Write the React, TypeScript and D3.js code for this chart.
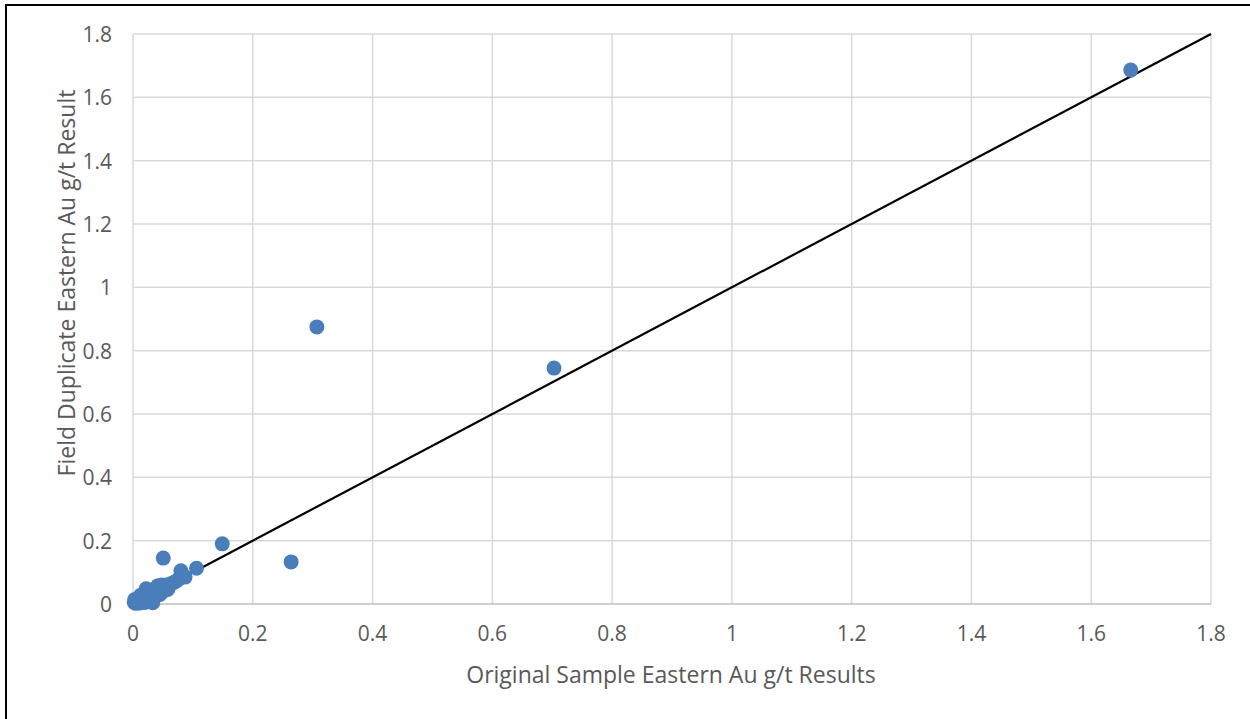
import React from "react";
import * as d3 from "d3";

const xValues = [1.666, 0.703, 0.307, 0.264, 0.149, 0.106, 0.0505, 0.080, 0.087,
  0.002, 0.003, 0.005, 0.008, 0.010, 0.012, 0.015, 0.018, 0.020, 0.022, 0.025, 0.028,
  0.030, 0.033, 0.035, 0.038, 0.040, 0.042, 0.045, 0.048, 0.050, 0.052, 0.055, 0.058,
  0.060, 0.063, 0.068, 0.072, 0.076, 0.020, 0.013, 0.045];
const yValues = [1.686, 0.745, 0.875, 0.133, 0.190, 0.113, 0.145, 0.105, 0.085,
  0.005, 0.014, 0.002, 0.016, 0.008, 0.003, 0.022, 0.010, 0.005, 0.048, 0.040, 0.030,
  0.022, 0.004, 0.042, 0.050, 0.035, 0.058, 0.046, 0.060, 0.040, 0.055, 0.060, 0.046,
  0.055, 0.064, 0.068, 0.072, 0.078, 0.030, 0.028, 0.030];
const xTicks = [0, 0.2, 0.4, 0.6, 0.8, 1, 1.2, 1.4, 1.6, 1.8];
const yTicks = [0, 0.2, 0.4, 0.6, 0.8, 1, 1.2, 1.4, 1.6, 1.8];
const refLine = [0, 1.8];

export default function App() {
  const W = 1250, H = 719;
  const x = d3.scaleLinear().domain([0, 1.8]).range([133, 1211]);
  const y = d3.scaleLinear().domain([0, 1.8]).range([604, 34]);
  const font = "Open Sans, sans-serif";
  const txt = "#595959";
  const line = d3.line<number>().x((d) => x(d)).y((d) => y(d));
  return (
    <svg width={W} height={H} style={{ position: "absolute", left: 0, top: 0, background: "#fff" }}>
      <rect x={0} y={0} width={W} height={H} fill="#fff" />
      <line x1={6} y1={5} x2={W} y2={5} stroke="#000" strokeWidth={2} />
      <line x1={6} y1={4} x2={6} y2={H} stroke="#000" strokeWidth={2} />
      {xTicks.map((t) => (
        <line key={"gx" + t} x1={x(t)} x2={x(t)} y1={y(1.8)} y2={y(0)} stroke="#d9d9d9" strokeWidth={1.5} />
      ))}
      {yTicks.map((t) => (
        <line key={"gy" + t} x1={x(0)} x2={x(1.8)} y1={y(t)} y2={y(t)} stroke={t === 0 ? "#bfbfbf" : "#d9d9d9"} strokeWidth={1.5} />
      ))}
      {xTicks.map((t) => (
        <text key={"tx" + t} x={x(t)} y={633} textAnchor="middle" dominantBaseline="central" fontFamily={font} fontSize={21} fill={txt}>
          {d3.format("~g")(t)}
        </text>
      ))}
      {yTicks.map((t) => (
        <text key={"ty" + t} x={112} y={y(t)} textAnchor="end" dominantBaseline="central" fontFamily={font} fontSize={21} fill={txt}>
          {d3.format("~g")(t)}
        </text>
      ))}
      <path d={line(refLine) || ""} stroke="#000" strokeWidth={2.2} fill="none" />
      {xValues.map((v, i) => (
        <circle key={"p" + i} cx={x(v)} cy={y(yValues[i])} r={7.5} fill="#4a7ebb" />
      ))}
      <text x={671} y={674} textAnchor="middle" dominantBaseline="central" fontFamily={font} fontSize={23} fill={txt}>
        Original Sample Eastern Au g/t Results
      </text>
      <text transform="translate(66,283) rotate(-90)" textAnchor="middle" dominantBaseline="central" fontFamily={font} fontSize={23} fill={txt}>
        Field Duplicate Eastern Au g/t Result
      </text>
    </svg>
  );
}
